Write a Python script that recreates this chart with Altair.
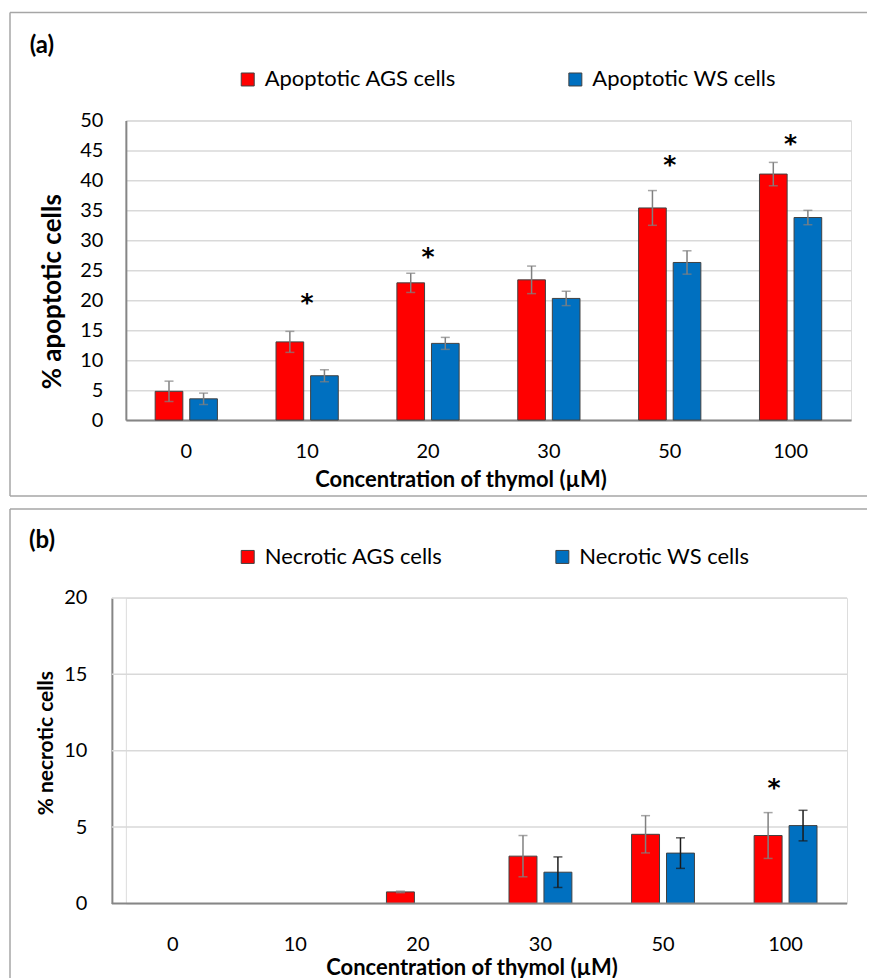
import altair as alt
import pandas as pd

# ---------------- data ----------------
conc = ["0", "10", "20", "30", "50", "100"]

series_a = ["Apoptotic AGS cells", "Apoptotic WS cells"]
apop_ags = [4.8, 13.05, 22.9, 23.4, 35.4, 41.05]
apop_ags_err = [1.7, 1.75, 1.6, 2.3, 2.9, 1.95]
apop_ws = [3.55, 7.4, 12.8, 20.3, 26.3, 33.8]
apop_ws_err = [0.95, 1.0, 1.0, 1.2, 1.95, 1.2]
sig_a_conc = ["10", "20", "50", "100"]
sig_a_y = [20.0, 27.7, 43.0, 46.5]
ticks_a = [0, 5, 10, 15, 20, 25, 30, 35, 40, 45, 50]

series_b = ["Necrotic AGS cells", "Necrotic WS cells"]
nec_ags = [0, 0, 0.76, 3.1, 4.53, 4.45]
nec_ags_err = [0, 0, 0.05, 1.35, 1.22, 1.5]
nec_ws = [0, 0, 0, 2.05, 3.3, 5.1]
nec_ws_err = [0, 0, 0, 1.0, 1.0, 1.0]
sig_b_conc = ["100"]
sig_b_y = [7.73]
ticks_b = [0, 5, 10, 15, 20]

colors = ["#FF0000", "#0070C0"]
FONT = "Lato"
GRID = "#d9d9d9"
AXIS = "#868686"


def make_df(series, ags, ags_err, ws, ws_err):
    rows = []
    for i, c in enumerate(conc):
        rows.append(dict(conc=c, series=series[0], value=ags[i], err=ags_err[i]))
        rows.append(dict(conc=c, series=series[1], value=ws[i], err=ws_err[i]))
    df = pd.DataFrame(rows)
    df["lo"] = df["value"] - df["err"]
    df["hi"] = df["value"] + df["err"]
    return df[df["value"] > 0].reset_index(drop=True)


def panel(df, series, sig_df, sig_offset, width, height, ymax, yvals, ytitle,
          xscale_opts, yaxis_opts, xaxis_opts, own_grid, frame, tag, tag_pos,
          legend_xy, ws_err_color):
    xaxis = alt.Axis(labelAngle=0, labelFont=FONT, labelFontSize=20, labelColor="#000",
                     ticks=False, tickSize=0, domain=not own_grid, domainColor=AXIS,
                     domainWidth=2, grid=False, titleFont=FONT, titleFontWeight="bold",
                     titleColor="#000", titleAlign="center", titleBaseline="middle",
                     **xaxis_opts)
    yaxis = alt.Axis(values=yvals, labelFont=FONT, labelFontSize=20, labelColor="#000",
                     ticks=False, tickSize=0, domainColor=AXIS, domainWidth=2,
                     grid=not own_grid, gridColor=GRID, gridWidth=1.5, titleFont=FONT,
                     titleFontWeight="bold", titleColor="#000", titleAngle=270,
                     titleAlign="center", titleBaseline="middle", **yaxis_opts)
    xscale = alt.Scale(domain=conc, **xscale_opts)
    oscale = alt.Scale(domain=series, paddingInner=0.2, paddingOuter=0)
    yscale = alt.Scale(domain=[0, ymax], nice=False)
    xtitle = "Concentration of thymol (µM)"

    def X():
        return alt.X("conc:N", sort=conc, scale=xscale, axis=xaxis, title=xtitle)

    def XO():
        return alt.XOffset("series:N", sort=series, scale=oscale)

    def Y(f):
        return alt.Y(f, scale=yscale, axis=yaxis, title=ytitle)

    one = pd.DataFrame({"k": [0]})
    fx0, fx1, fy0, fy1, draw_bottom = frame

    pre = []
    fstyle = dict(color="#a6a6a6", strokeWidth=1.5)
    pre.append(alt.Chart(one).mark_rule(**fstyle).encode(
        x=alt.value(fx0), x2=alt.value(fx1), y=alt.value(fy0)))
    pre.append(alt.Chart(one).mark_rule(**fstyle).encode(
        x=alt.value(fx0), y=alt.value(fy0), y2=alt.value(fy1)))
    if draw_bottom:
        pre.append(alt.Chart(one).mark_rule(**fstyle).encode(
            x=alt.value(fx0), x2=alt.value(fx1), y=alt.value(fy1)))
    if own_grid:
        gx0, gx1 = own_grid
        grid_df = pd.DataFrame({"v": [v for v in yvals if v > 0]})
        pre.append(alt.Chart(grid_df).mark_rule(color=GRID, strokeWidth=1.5).encode(
            x=alt.value(gx0), x2=alt.value(gx1), y=Y("v:Q")))

    bars = alt.Chart(df).mark_bar(stroke="#404040", strokeWidth=1).encode(
        x=X(), xOffset=XO(), y=Y("value:Q"),
        color=alt.Color("series:N", sort=series,
                        scale=alt.Scale(domain=series, range=colors),
                        legend=alt.Legend(orient="none", legendX=legend_xy[0],
                                          legendY=legend_xy[1], direction="horizontal",
                                          title=None, symbolType="square", symbolSize=169,
                                          symbolStrokeColor="#404040", symbolStrokeWidth=1,
                                          labelFont=FONT, labelFontSize=22, labelLimit=400,
                                          labelColor="#000", labelOffset=6,
                                          columnPadding=108, padding=0)),
    )

    post = []
    if own_grid:
        gx0, gx1 = own_grid
        base_df = pd.DataFrame({"v": [0]})
        post.append(alt.Chart(base_df).mark_rule(color=AXIS, strokeWidth=2).encode(
            x=alt.value(gx0), x2=alt.value(gx1), y=Y("v:Q")))

    for s, col in zip(series, ["#808080", ws_err_color]):
        sub = df[df["series"] == s]
        base = alt.Chart(sub)
        post.append(base.mark_rule(color=col, strokeWidth=1.5).encode(
            x=X(), xOffset=XO(), y=Y("lo:Q"), y2="hi:Q"))
        post.append(base.mark_tick(color=col, thickness=1.5, size=9).encode(
            x=X(), xOffset=XO(), y=Y("lo:Q")))
        post.append(base.mark_tick(color=col, thickness=1.5, size=9).encode(
            x=X(), xOffset=XO(), y=Y("hi:Q")))

    star = dict(text="*", font="DejaVu Sans", fontSize=25, fontWeight="bold",
                color="#000", baseline="alphabetic", dy=11)
    if sig_offset:
        sig = alt.Chart(sig_df).mark_text(dx=6, **star).encode(
            x=X(), xOffset=XO(), y=Y("y:Q"))
    else:
        sig = alt.Chart(sig_df).mark_text(**star).encode(x=X(), y=Y("y:Q"))

    label = alt.Chart(one).mark_text(text=tag, font=FONT, fontSize=24, fontWeight="bold",
                                     color="#000", align="center", baseline="middle").encode(
        x=alt.value(tag_pos[0]), y=alt.value(tag_pos[1]))

    return alt.layer(*pre, bars, *post, sig, label).properties(width=width, height=height)


df_a = make_df(series_a, apop_ags, apop_ags_err, apop_ws, apop_ws_err)
df_b = make_df(series_b, nec_ags, nec_ags_err, nec_ws, nec_ws_err)
sig_a = pd.DataFrame({"conc": sig_a_conc, "y": sig_a_y})
sig_b = pd.DataFrame({"conc": sig_b_conc, "y": sig_b_y, "series": [series_b[0]]})

chart_a = panel(df_a, series_a, sig_a, False, 726, 300, 50, ticks_a,
                "%  apoptotic cells",
                dict(paddingInner=0.485, paddingOuter=0.2425),
                dict(labelPadding=23, titleX=-73, titleY=171, titleFontSize=26),
                dict(labelPadding=21, titleX=335, titleY=59, titleFontSize=22),
                None, (-116, 742, -108, 376, True), "(a)", (-84, -75), (111, -52),
                "#808080")

chart_b = panel(df_b, series_b, sig_b, True, 722, 306, 20, ticks_b,
                "% necrotic cells",
                dict(paddingInner=0.487, paddingOuter=0.1855, align=0.34),
                dict(labelPadding=25, titleX=-65, titleY=145, titleFontSize=21, offset=14),
                dict(labelPadding=31, titleX=346, titleY=64, titleFontSize=22),
                (-14, 722), (-116, 742, -89, 390, False), "(b)", (-84, -57), (111, -52),
                "#1a1a1a")

chart = alt.vconcat(chart_a, chart_b, spacing=9).resolve_scale(
    color="independent", x="independent", y="independent", xOffset="independent"
).resolve_legend(color="independent").properties(
    padding={"left": 0, "top": 2, "right": 0, "bottom": 0}
).configure_view(stroke=None).configure(background="white")

chart.save("out.html", embed_options={"renderer": "svg", "actions": False})
